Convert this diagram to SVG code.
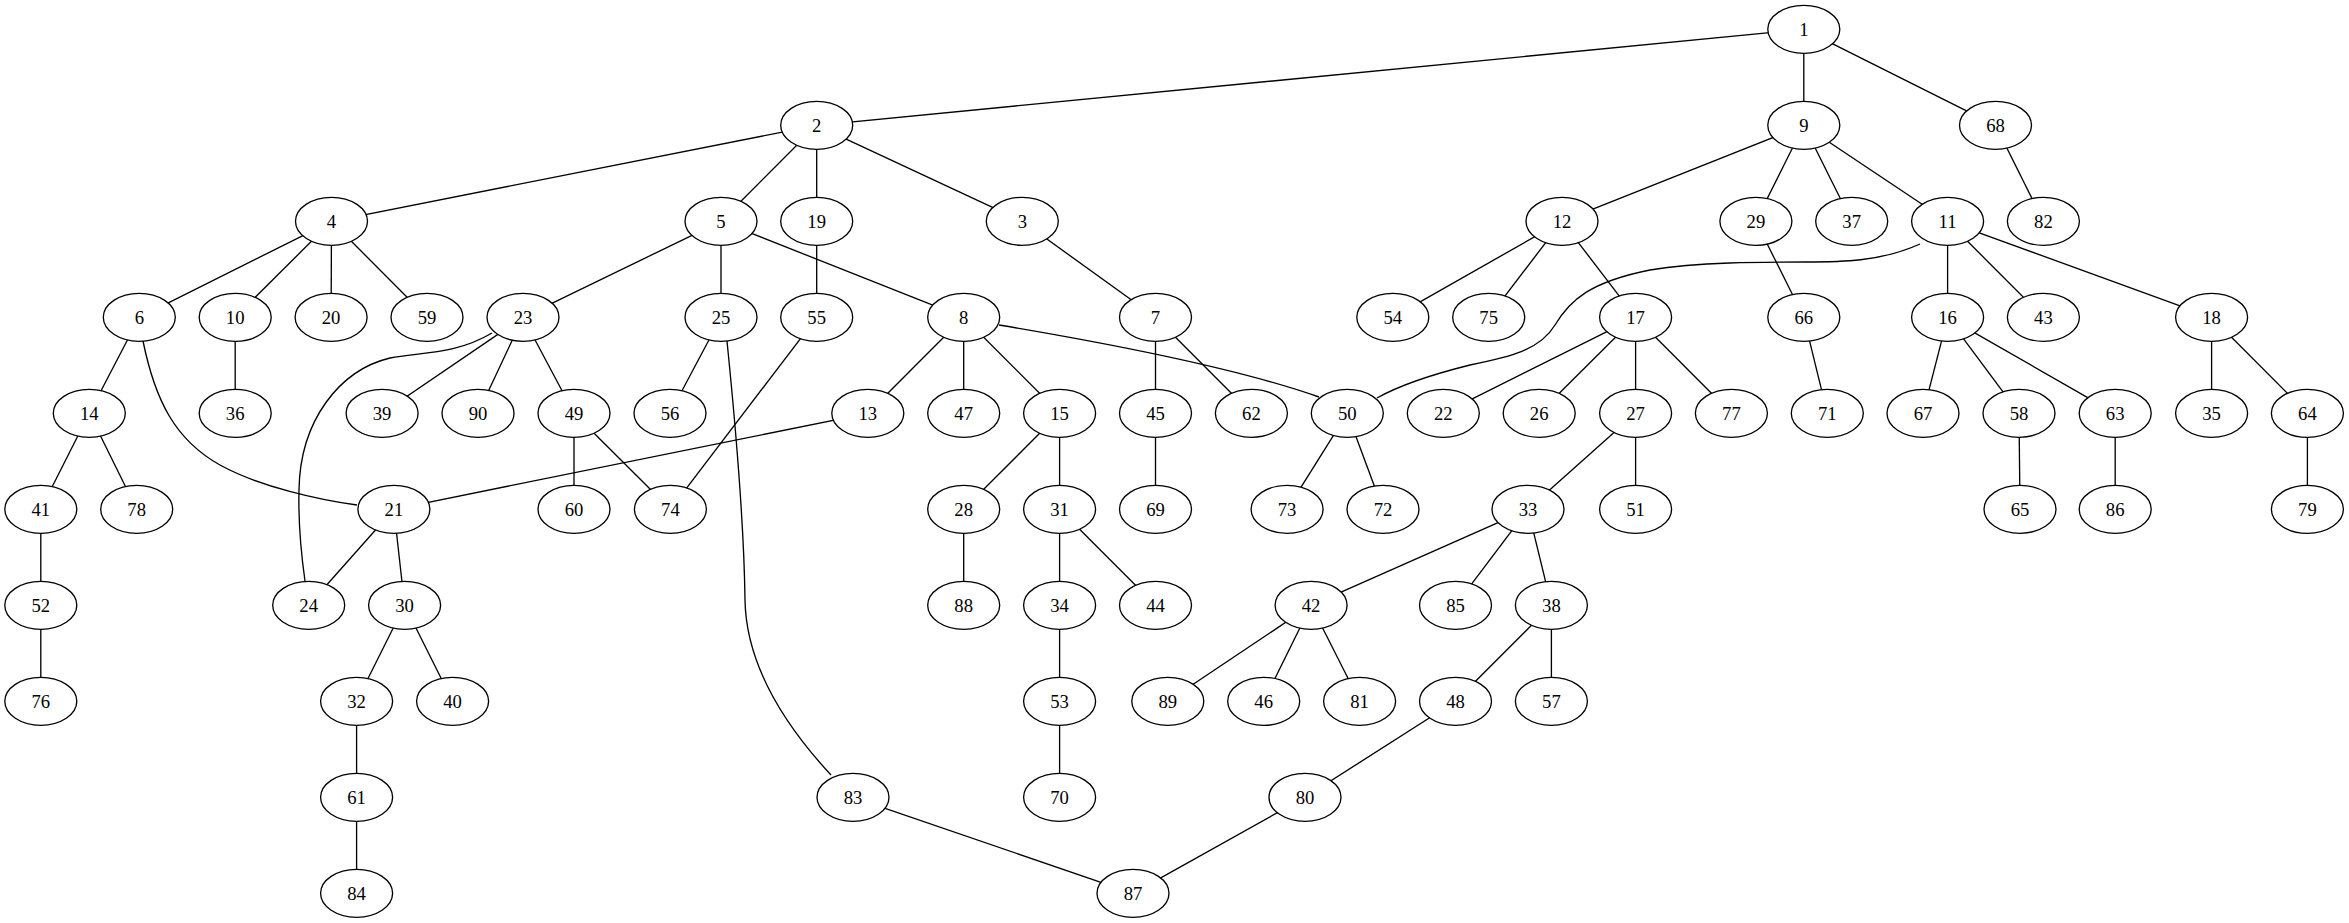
<svg xmlns="http://www.w3.org/2000/svg" width="2349" height="923" viewBox="0 0 2349 923">
<style>
.node ellipse{fill:#fff;stroke:#000;stroke-width:1.33}
.node text{font-family:"Liberation Serif","Times New Roman",serif;font-size:18.67px;text-anchor:middle;fill:#000}
.edges line,.edges path{stroke:#000;stroke-width:1.33;fill:none}
</style>
<rect width="2349" height="923" fill="#fff"/>
<g id="edges" class="edges">
<line x1="1803.8" y1="29.3" x2="816.7" y2="125.3"/>
<line x1="1803.8" y1="29.3" x2="1803.8" y2="125.3"/>
<line x1="1803.8" y1="29.3" x2="1995.5" y2="125.3"/>
<line x1="816.7" y1="125.3" x2="331.5" y2="221.3"/>
<line x1="816.7" y1="125.3" x2="721" y2="221.3"/>
<line x1="816.7" y1="125.3" x2="816.7" y2="221.3"/>
<line x1="816.7" y1="125.3" x2="1022.3" y2="221.3"/>
<line x1="1803.8" y1="125.3" x2="1562" y2="221.3"/>
<line x1="1803.8" y1="125.3" x2="1755.9" y2="221.3"/>
<line x1="1803.8" y1="125.3" x2="1851.7" y2="221.3"/>
<line x1="1803.8" y1="125.3" x2="1947.6" y2="221.3"/>
<line x1="1995.5" y1="125.3" x2="2043.4" y2="221.3"/>
<line x1="331.5" y1="221.3" x2="139.3" y2="317.3"/>
<line x1="331.5" y1="221.3" x2="235.2" y2="317.3"/>
<line x1="331.5" y1="221.3" x2="331.1" y2="317.3"/>
<line x1="331.5" y1="221.3" x2="427" y2="317.3"/>
<line x1="721" y1="221.3" x2="523" y2="317.3"/>
<line x1="721" y1="221.3" x2="721" y2="317.3"/>
<line x1="721" y1="221.3" x2="963.7" y2="317.3"/>
<line x1="816.7" y1="221.3" x2="816.7" y2="317.3"/>
<line x1="1022.3" y1="221.3" x2="1155.5" y2="317.3"/>
<line x1="1562" y1="221.3" x2="1392.8" y2="317.3"/>
<line x1="1562" y1="221.3" x2="1488.7" y2="317.3"/>
<line x1="1562" y1="221.3" x2="1635.6" y2="317.3"/>
<line x1="1755.9" y1="221.3" x2="1803.8" y2="317.3"/>
<line x1="1947.6" y1="221.3" x2="1947.6" y2="317.3"/>
<line x1="1947.6" y1="221.3" x2="2043.4" y2="317.3"/>
<line x1="1947.6" y1="221.3" x2="2211.6" y2="317.3"/>
<path d="M1920,244 C1880,262 1840,262 1805,262 C1760,262 1700,262 1650,270 C1590,282 1570,300 1555,325 C1540,350 1510,357 1470,365 C1430,375 1400,385 1377,398"/>
<line x1="139.3" y1="317.3" x2="89.3" y2="413.3"/>
<path d="M143,341 C155,400 175,440 220,465 C260,487 320,500 357,505"/>
<line x1="235.2" y1="317.3" x2="235.2" y2="413.3"/>
<path d="M492,333 C455,355 420,352 390,358 C340,370 300,420 299,490 C298,530 302,560 305,581"/>
<line x1="523" y1="317.3" x2="382.1" y2="413.3"/>
<line x1="523" y1="317.3" x2="478" y2="413.3"/>
<line x1="523" y1="317.3" x2="574" y2="413.3"/>
<line x1="721" y1="317.3" x2="670" y2="413.3"/>
<path d="M727,341 C735,420 744,520 745,600 C746,660 780,720 831,775"/>
<line x1="816.7" y1="317.3" x2="670.4" y2="509.3"/>
<line x1="963.7" y1="317.3" x2="867.8" y2="413.3"/>
<line x1="963.7" y1="317.3" x2="963.7" y2="413.3"/>
<line x1="963.7" y1="317.3" x2="1059.6" y2="413.3"/>
<path d="M999,325 Q1220,362 1319,397"/>
<line x1="1155.5" y1="317.3" x2="1155.5" y2="413.3"/>
<line x1="1155.5" y1="317.3" x2="1251.4" y2="413.3"/>
<line x1="1635.6" y1="317.3" x2="1443.3" y2="413.3"/>
<line x1="1635.6" y1="317.3" x2="1539.2" y2="413.3"/>
<line x1="1635.6" y1="317.3" x2="1635.6" y2="413.3"/>
<line x1="1635.6" y1="317.3" x2="1731.4" y2="413.3"/>
<line x1="1803.8" y1="317.3" x2="1827.3" y2="413.3"/>
<line x1="1947.6" y1="317.3" x2="1923" y2="413.3"/>
<line x1="1947.6" y1="317.3" x2="2019" y2="413.3"/>
<line x1="1947.6" y1="317.3" x2="2115.2" y2="413.3"/>
<line x1="2211.6" y1="317.3" x2="2211.6" y2="413.3"/>
<line x1="2211.6" y1="317.3" x2="2307.4" y2="413.3"/>
<line x1="89.3" y1="413.3" x2="40.8" y2="509.3"/>
<line x1="89.3" y1="413.3" x2="136.7" y2="509.3"/>
<line x1="867.8" y1="413.3" x2="393.9" y2="509.3"/>
<line x1="574" y1="413.3" x2="574" y2="509.3"/>
<line x1="574" y1="413.3" x2="670.4" y2="509.3"/>
<line x1="1059.6" y1="413.3" x2="963.7" y2="509.3"/>
<line x1="1059.6" y1="413.3" x2="1059.6" y2="509.3"/>
<line x1="1155.5" y1="413.3" x2="1155.5" y2="509.3"/>
<line x1="1347.3" y1="413.3" x2="1287.1" y2="509.3"/>
<line x1="1347.3" y1="413.3" x2="1383" y2="509.3"/>
<line x1="1635.6" y1="413.3" x2="1528" y2="509.3"/>
<line x1="1635.6" y1="413.3" x2="1635.6" y2="509.3"/>
<line x1="2019" y1="413.3" x2="2020" y2="509.3"/>
<line x1="2115.2" y1="413.3" x2="2115.2" y2="509.3"/>
<line x1="2307.4" y1="413.3" x2="2307.4" y2="509.3"/>
<line x1="40.8" y1="509.3" x2="40.8" y2="605.3"/>
<line x1="393.9" y1="509.3" x2="308.7" y2="605.3"/>
<line x1="393.9" y1="509.3" x2="404.6" y2="605.3"/>
<line x1="963.7" y1="509.3" x2="963.7" y2="605.3"/>
<line x1="1059.6" y1="509.3" x2="1059.6" y2="605.3"/>
<line x1="1059.6" y1="509.3" x2="1155.5" y2="605.3"/>
<line x1="1528" y1="509.3" x2="1311.1" y2="605.3"/>
<line x1="1528" y1="509.3" x2="1455.5" y2="605.3"/>
<line x1="1528" y1="509.3" x2="1551.4" y2="605.3"/>
<line x1="40.8" y1="605.3" x2="40.8" y2="701.3"/>
<line x1="404.6" y1="605.3" x2="356.6" y2="701.3"/>
<line x1="404.6" y1="605.3" x2="452.6" y2="701.3"/>
<line x1="1059.6" y1="605.3" x2="1059.6" y2="701.3"/>
<line x1="1311.1" y1="605.3" x2="1167.8" y2="701.3"/>
<line x1="1311.1" y1="605.3" x2="1263.7" y2="701.3"/>
<line x1="1311.1" y1="605.3" x2="1359.6" y2="701.3"/>
<line x1="1551.4" y1="605.3" x2="1455.5" y2="701.3"/>
<line x1="1551.4" y1="605.3" x2="1551.4" y2="701.3"/>
<line x1="356.6" y1="701.3" x2="356.6" y2="797.3"/>
<line x1="1059.6" y1="701.3" x2="1059.6" y2="797.3"/>
<line x1="1455.5" y1="701.3" x2="1305" y2="797.3"/>
<line x1="356.6" y1="797.3" x2="356.6" y2="893.3"/>
<line x1="853" y1="797.3" x2="1133" y2="893.3"/>
<line x1="1305" y1="797.3" x2="1133" y2="893.3"/>
</g>
<g id="n1" class="node"><ellipse cx="1803.8" cy="29.3" rx="36" ry="24"/><text x="1803.8" y="35.5">1</text></g>
<g id="n2" class="node"><ellipse cx="816.7" cy="125.3" rx="36" ry="24"/><text x="816.7" y="131.5">2</text></g>
<g id="n9" class="node"><ellipse cx="1803.8" cy="125.3" rx="36" ry="24"/><text x="1803.8" y="131.5">9</text></g>
<g id="n68" class="node"><ellipse cx="1995.5" cy="125.3" rx="36" ry="24"/><text x="1995.5" y="131.5">68</text></g>
<g id="n4" class="node"><ellipse cx="331.5" cy="221.3" rx="36" ry="24"/><text x="331.5" y="227.5">4</text></g>
<g id="n5" class="node"><ellipse cx="721" cy="221.3" rx="36" ry="24"/><text x="721" y="227.5">5</text></g>
<g id="n19" class="node"><ellipse cx="816.7" cy="221.3" rx="36" ry="24"/><text x="816.7" y="227.5">19</text></g>
<g id="n3" class="node"><ellipse cx="1022.3" cy="221.3" rx="36" ry="24"/><text x="1022.3" y="227.5">3</text></g>
<g id="n12" class="node"><ellipse cx="1562" cy="221.3" rx="36" ry="24"/><text x="1562" y="227.5">12</text></g>
<g id="n29" class="node"><ellipse cx="1755.9" cy="221.3" rx="36" ry="24"/><text x="1755.9" y="227.5">29</text></g>
<g id="n37" class="node"><ellipse cx="1851.7" cy="221.3" rx="36" ry="24"/><text x="1851.7" y="227.5">37</text></g>
<g id="n11" class="node"><ellipse cx="1947.6" cy="221.3" rx="36" ry="24"/><text x="1947.6" y="227.5">11</text></g>
<g id="n82" class="node"><ellipse cx="2043.4" cy="221.3" rx="36" ry="24"/><text x="2043.4" y="227.5">82</text></g>
<g id="n6" class="node"><ellipse cx="139.3" cy="317.3" rx="36" ry="24"/><text x="139.3" y="323.5">6</text></g>
<g id="n10" class="node"><ellipse cx="235.2" cy="317.3" rx="36" ry="24"/><text x="235.2" y="323.5">10</text></g>
<g id="n20" class="node"><ellipse cx="331.1" cy="317.3" rx="36" ry="24"/><text x="331.1" y="323.5">20</text></g>
<g id="n59" class="node"><ellipse cx="427" cy="317.3" rx="36" ry="24"/><text x="427" y="323.5">59</text></g>
<g id="n23" class="node"><ellipse cx="523" cy="317.3" rx="36" ry="24"/><text x="523" y="323.5">23</text></g>
<g id="n25" class="node"><ellipse cx="721" cy="317.3" rx="36" ry="24"/><text x="721" y="323.5">25</text></g>
<g id="n55" class="node"><ellipse cx="816.7" cy="317.3" rx="36" ry="24"/><text x="816.7" y="323.5">55</text></g>
<g id="n8" class="node"><ellipse cx="963.7" cy="317.3" rx="36" ry="24"/><text x="963.7" y="323.5">8</text></g>
<g id="n7" class="node"><ellipse cx="1155.5" cy="317.3" rx="36" ry="24"/><text x="1155.5" y="323.5">7</text></g>
<g id="n54" class="node"><ellipse cx="1392.8" cy="317.3" rx="36" ry="24"/><text x="1392.8" y="323.5">54</text></g>
<g id="n75" class="node"><ellipse cx="1488.7" cy="317.3" rx="36" ry="24"/><text x="1488.7" y="323.5">75</text></g>
<g id="n17" class="node"><ellipse cx="1635.6" cy="317.3" rx="36" ry="24"/><text x="1635.6" y="323.5">17</text></g>
<g id="n66" class="node"><ellipse cx="1803.8" cy="317.3" rx="36" ry="24"/><text x="1803.8" y="323.5">66</text></g>
<g id="n16" class="node"><ellipse cx="1947.6" cy="317.3" rx="36" ry="24"/><text x="1947.6" y="323.5">16</text></g>
<g id="n43" class="node"><ellipse cx="2043.4" cy="317.3" rx="36" ry="24"/><text x="2043.4" y="323.5">43</text></g>
<g id="n18" class="node"><ellipse cx="2211.6" cy="317.3" rx="36" ry="24"/><text x="2211.6" y="323.5">18</text></g>
<g id="n14" class="node"><ellipse cx="89.3" cy="413.3" rx="36" ry="24"/><text x="89.3" y="419.5">14</text></g>
<g id="n36" class="node"><ellipse cx="235.2" cy="413.3" rx="36" ry="24"/><text x="235.2" y="419.5">36</text></g>
<g id="n39" class="node"><ellipse cx="382.1" cy="413.3" rx="36" ry="24"/><text x="382.1" y="419.5">39</text></g>
<g id="n90" class="node"><ellipse cx="478" cy="413.3" rx="36" ry="24"/><text x="478" y="419.5">90</text></g>
<g id="n49" class="node"><ellipse cx="574" cy="413.3" rx="36" ry="24"/><text x="574" y="419.5">49</text></g>
<g id="n56" class="node"><ellipse cx="670" cy="413.3" rx="36" ry="24"/><text x="670" y="419.5">56</text></g>
<g id="n13" class="node"><ellipse cx="867.8" cy="413.3" rx="36" ry="24"/><text x="867.8" y="419.5">13</text></g>
<g id="n47" class="node"><ellipse cx="963.7" cy="413.3" rx="36" ry="24"/><text x="963.7" y="419.5">47</text></g>
<g id="n15" class="node"><ellipse cx="1059.6" cy="413.3" rx="36" ry="24"/><text x="1059.6" y="419.5">15</text></g>
<g id="n45" class="node"><ellipse cx="1155.5" cy="413.3" rx="36" ry="24"/><text x="1155.5" y="419.5">45</text></g>
<g id="n62" class="node"><ellipse cx="1251.4" cy="413.3" rx="36" ry="24"/><text x="1251.4" y="419.5">62</text></g>
<g id="n50" class="node"><ellipse cx="1347.3" cy="413.3" rx="36" ry="24"/><text x="1347.3" y="419.5">50</text></g>
<g id="n22" class="node"><ellipse cx="1443.3" cy="413.3" rx="36" ry="24"/><text x="1443.3" y="419.5">22</text></g>
<g id="n26" class="node"><ellipse cx="1539.2" cy="413.3" rx="36" ry="24"/><text x="1539.2" y="419.5">26</text></g>
<g id="n27" class="node"><ellipse cx="1635.6" cy="413.3" rx="36" ry="24"/><text x="1635.6" y="419.5">27</text></g>
<g id="n77" class="node"><ellipse cx="1731.4" cy="413.3" rx="36" ry="24"/><text x="1731.4" y="419.5">77</text></g>
<g id="n71" class="node"><ellipse cx="1827.3" cy="413.3" rx="36" ry="24"/><text x="1827.3" y="419.5">71</text></g>
<g id="n67" class="node"><ellipse cx="1923" cy="413.3" rx="36" ry="24"/><text x="1923" y="419.5">67</text></g>
<g id="n58" class="node"><ellipse cx="2019" cy="413.3" rx="36" ry="24"/><text x="2019" y="419.5">58</text></g>
<g id="n63" class="node"><ellipse cx="2115.2" cy="413.3" rx="36" ry="24"/><text x="2115.2" y="419.5">63</text></g>
<g id="n35" class="node"><ellipse cx="2211.6" cy="413.3" rx="36" ry="24"/><text x="2211.6" y="419.5">35</text></g>
<g id="n64" class="node"><ellipse cx="2307.4" cy="413.3" rx="36" ry="24"/><text x="2307.4" y="419.5">64</text></g>
<g id="n41" class="node"><ellipse cx="40.8" cy="509.3" rx="36" ry="24"/><text x="40.8" y="515.5">41</text></g>
<g id="n78" class="node"><ellipse cx="136.7" cy="509.3" rx="36" ry="24"/><text x="136.7" y="515.5">78</text></g>
<g id="n21" class="node"><ellipse cx="393.9" cy="509.3" rx="36" ry="24"/><text x="393.9" y="515.5">21</text></g>
<g id="n60" class="node"><ellipse cx="574" cy="509.3" rx="36" ry="24"/><text x="574" y="515.5">60</text></g>
<g id="n74" class="node"><ellipse cx="670.4" cy="509.3" rx="36" ry="24"/><text x="670.4" y="515.5">74</text></g>
<g id="n28" class="node"><ellipse cx="963.7" cy="509.3" rx="36" ry="24"/><text x="963.7" y="515.5">28</text></g>
<g id="n31" class="node"><ellipse cx="1059.6" cy="509.3" rx="36" ry="24"/><text x="1059.6" y="515.5">31</text></g>
<g id="n69" class="node"><ellipse cx="1155.5" cy="509.3" rx="36" ry="24"/><text x="1155.5" y="515.5">69</text></g>
<g id="n73" class="node"><ellipse cx="1287.1" cy="509.3" rx="36" ry="24"/><text x="1287.1" y="515.5">73</text></g>
<g id="n72" class="node"><ellipse cx="1383" cy="509.3" rx="36" ry="24"/><text x="1383" y="515.5">72</text></g>
<g id="n33" class="node"><ellipse cx="1528" cy="509.3" rx="36" ry="24"/><text x="1528" y="515.5">33</text></g>
<g id="n51" class="node"><ellipse cx="1635.6" cy="509.3" rx="36" ry="24"/><text x="1635.6" y="515.5">51</text></g>
<g id="n65" class="node"><ellipse cx="2020" cy="509.3" rx="36" ry="24"/><text x="2020" y="515.5">65</text></g>
<g id="n86" class="node"><ellipse cx="2115.2" cy="509.3" rx="36" ry="24"/><text x="2115.2" y="515.5">86</text></g>
<g id="n79" class="node"><ellipse cx="2307.4" cy="509.3" rx="36" ry="24"/><text x="2307.4" y="515.5">79</text></g>
<g id="n52" class="node"><ellipse cx="40.8" cy="605.3" rx="36" ry="24"/><text x="40.8" y="611.5">52</text></g>
<g id="n24" class="node"><ellipse cx="308.7" cy="605.3" rx="36" ry="24"/><text x="308.7" y="611.5">24</text></g>
<g id="n30" class="node"><ellipse cx="404.6" cy="605.3" rx="36" ry="24"/><text x="404.6" y="611.5">30</text></g>
<g id="n88" class="node"><ellipse cx="963.7" cy="605.3" rx="36" ry="24"/><text x="963.7" y="611.5">88</text></g>
<g id="n34" class="node"><ellipse cx="1059.6" cy="605.3" rx="36" ry="24"/><text x="1059.6" y="611.5">34</text></g>
<g id="n44" class="node"><ellipse cx="1155.5" cy="605.3" rx="36" ry="24"/><text x="1155.5" y="611.5">44</text></g>
<g id="n42" class="node"><ellipse cx="1311.1" cy="605.3" rx="36" ry="24"/><text x="1311.1" y="611.5">42</text></g>
<g id="n85" class="node"><ellipse cx="1455.5" cy="605.3" rx="36" ry="24"/><text x="1455.5" y="611.5">85</text></g>
<g id="n38" class="node"><ellipse cx="1551.4" cy="605.3" rx="36" ry="24"/><text x="1551.4" y="611.5">38</text></g>
<g id="n76" class="node"><ellipse cx="40.8" cy="701.3" rx="36" ry="24"/><text x="40.8" y="707.5">76</text></g>
<g id="n32" class="node"><ellipse cx="356.6" cy="701.3" rx="36" ry="24"/><text x="356.6" y="707.5">32</text></g>
<g id="n40" class="node"><ellipse cx="452.6" cy="701.3" rx="36" ry="24"/><text x="452.6" y="707.5">40</text></g>
<g id="n53" class="node"><ellipse cx="1059.6" cy="701.3" rx="36" ry="24"/><text x="1059.6" y="707.5">53</text></g>
<g id="n89" class="node"><ellipse cx="1167.8" cy="701.3" rx="36" ry="24"/><text x="1167.8" y="707.5">89</text></g>
<g id="n46" class="node"><ellipse cx="1263.7" cy="701.3" rx="36" ry="24"/><text x="1263.7" y="707.5">46</text></g>
<g id="n81" class="node"><ellipse cx="1359.6" cy="701.3" rx="36" ry="24"/><text x="1359.6" y="707.5">81</text></g>
<g id="n48" class="node"><ellipse cx="1455.5" cy="701.3" rx="36" ry="24"/><text x="1455.5" y="707.5">48</text></g>
<g id="n57" class="node"><ellipse cx="1551.4" cy="701.3" rx="36" ry="24"/><text x="1551.4" y="707.5">57</text></g>
<g id="n61" class="node"><ellipse cx="356.6" cy="797.3" rx="36" ry="24"/><text x="356.6" y="803.5">61</text></g>
<g id="n83" class="node"><ellipse cx="853" cy="797.3" rx="36" ry="24"/><text x="853" y="803.5">83</text></g>
<g id="n70" class="node"><ellipse cx="1059.6" cy="797.3" rx="36" ry="24"/><text x="1059.6" y="803.5">70</text></g>
<g id="n80" class="node"><ellipse cx="1305" cy="797.3" rx="36" ry="24"/><text x="1305" y="803.5">80</text></g>
<g id="n84" class="node"><ellipse cx="356.6" cy="893.3" rx="36" ry="24"/><text x="356.6" y="899.5">84</text></g>
<g id="n87" class="node"><ellipse cx="1133" cy="893.3" rx="36" ry="24"/><text x="1133" y="899.5">87</text></g>
</svg>
